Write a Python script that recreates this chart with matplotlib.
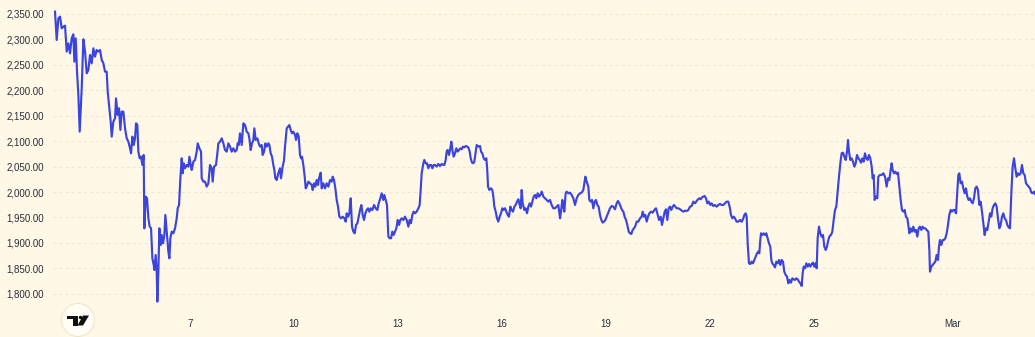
import numpy as np
import pandas as pd
import matplotlib
matplotlib.use('Agg')
import matplotlib.pyplot as plt
from matplotlib.patches import Circle, Polygon
from matplotlib.transforms import IdentityTransform

# price trace, x = day of February (fractional), y = price
days_a = [3.106, 3.155, 3.203, 3.251, 3.299, 3.347, 3.395, 3.443, 3.491, 3.539,
          3.587, 3.635, 3.664, 3.703, 3.741, 3.780, 3.818, 3.876, 3.924, 3.972,
          4.020, 4.068, 4.116, 4.164, 4.212, 4.260, 4.308, 4.356, 4.405, 4.453,
          4.501, 4.549, 4.597, 4.626, 4.664, 4.712, 4.741, 4.789, 4.837, 4.866,
          4.914, 4.953, 4.991, 5.030, 5.078, 5.126, 5.174, 5.222, 5.270, 5.299,
          5.337, 5.376, 5.414, 5.443, 5.481, 5.510, 5.549, 5.587, 5.626, 5.664,
          5.683, 5.722, 5.760, 5.799, 5.837, 5.876, 5.914, 5.953, 5.972, 6.010,
          6.039, 6.058, 6.087, 6.116, 6.155, 6.183, 6.222, 6.260, 6.289, 6.328,
          6.376, 6.405, 6.433, 6.472, 6.520, 6.568, 6.616, 6.645, 6.683, 6.722,
          6.760, 6.789, 6.818, 6.856, 6.905, 6.953, 6.982, 7.020, 7.049, 7.097,
          7.145, 7.193, 7.222, 7.270, 7.318, 7.337, 7.385, 7.433, 7.481, 7.530]
price_a = [2354.6, 2298.9, 2341.5, 2344.8, 2321.8, 2325.1, 2327.1, 2276.0, 2292.3, 2272.7,
           2302.2, 2310.0, 2256.3, 2302.2, 2236.6, 2190.8, 2118.7, 2203.9, 2300.2, 2276.0,
           2233.4, 2239.9, 2269.4, 2253.0, 2282.5, 2266.1, 2279.2, 2276.0, 2279.2, 2259.6,
           2253.0, 2236.6, 2236.6, 2197.3, 2171.1, 2138.4, 2108.9, 2138.4, 2144.9, 2184.2,
           2151.5, 2164.6, 2122.0, 2158.0, 2158.0, 2125.2, 2105.6, 2099.0, 2085.9, 2076.1,
           2108.9, 2092.5, 2105.6, 2135.1, 2131.8, 2079.4, 2066.3, 2069.5, 2053.2, 2072.8,
           1928.6, 1990.9, 1987.6, 1948.3, 1931.9, 1928.6, 1869.7, 1856.6, 1846.7, 1876.2,
           1843.5, 1784.5, 1843.5, 1928.6, 1895.9, 1915.5, 1899.2, 1915.5, 1954.9, 1922.1,
           1882.8, 1869.7, 1909.0, 1922.1, 1918.8, 1928.6, 1948.3, 1968.0, 1974.5, 2027.0,
           2066.3, 2036.8, 2056.4, 2046.6, 2053.2, 2049.9, 2069.5, 2053.2, 2043.3, 2059.7,
           2063.0, 2079.4, 2095.7, 2085.9, 2079.4, 2027.0, 2020.4, 2020.4, 2010.6, 2017.1]

days_b = [7.577, 7.625, 7.654, 7.692, 7.750, 7.789, 7.817, 7.865, 7.914, 7.962,
          8.010, 8.058, 8.106, 8.154, 8.202, 8.250, 8.298, 8.346, 8.375, 8.404,
          8.442, 8.490, 8.539, 8.587, 8.635, 8.683, 8.712, 8.750, 8.789, 8.827,
          8.856, 8.894, 8.942, 8.981, 9.019, 9.067, 9.096, 9.135, 9.173, 9.212,
          9.260, 9.289, 9.327, 9.365, 9.404, 9.433, 9.462, 9.500, 9.548, 9.596,
          9.625, 9.673, 9.712, 9.740, 9.789, 9.827, 9.865, 9.904, 9.942, 9.981,
          10.029, 10.058, 10.096, 10.135, 10.173, 10.202, 10.231, 10.269, 10.308, 10.337,
          10.365, 10.413, 10.462, 10.510, 10.539, 10.577, 10.615, 10.654, 10.692, 10.721,
          10.769, 10.798, 10.846, 10.894, 10.942, 10.990, 11.039, 11.087, 11.115, 11.154,
          11.192, 11.231, 11.269, 11.308, 11.356, 11.404, 11.452, 11.490, 11.519, 11.558,
          11.596, 11.635, 11.673, 11.712, 11.750, 11.788, 11.827, 11.865, 11.904, 11.942,
          11.981, 12.019, 12.058, 12.096, 12.135, 12.173, 12.212, 12.260, 12.308, 12.356,
          12.404, 12.442]
price_b = [2053.1, 2046.6, 2020.4, 2049.8, 2053.1, 2076.1, 2095.7, 2099.0, 2105.5, 2095.7,
           2082.6, 2079.3, 2095.7, 2089.2, 2079.3, 2085.9, 2079.3, 2082.6, 2095.7, 2092.4,
           2115.4, 2092.4, 2135.0, 2131.7, 2118.6, 2115.4, 2105.5, 2082.6, 2095.7, 2102.3,
           2125.2, 2102.3, 2105.5, 2095.7, 2089.2, 2092.4, 2072.8, 2079.3, 2095.7, 2089.2,
           2095.7, 2092.4, 2076.1, 2069.5, 2053.1, 2043.3, 2026.9, 2023.6, 2036.7, 2046.6,
           2026.9, 2049.8, 2063.0, 2089.2, 2125.2, 2128.5, 2131.7, 2121.9, 2115.4, 2118.6,
           2112.1, 2102.3, 2115.4, 2108.8, 2072.8, 2066.2, 2069.5, 2053.1, 2030.2, 2007.2,
           2010.5, 2020.4, 2017.1, 2013.8, 2004.0, 2017.1, 2010.5, 2023.6, 2013.8, 2026.9,
           2038.0, 2007.2, 2017.1, 2007.2, 2017.1, 2010.5, 2023.6, 2020.4, 2030.2, 2023.6,
           2007.2, 1984.3, 1971.2, 1951.5, 1948.3, 1951.5, 1948.3, 1941.7, 1958.1, 1951.5,
           1958.1, 1987.6, 1931.9, 1922.0, 1918.8, 1935.2, 1938.4, 1951.5, 1964.6, 1974.5,
           1954.8, 1945.0, 1958.1, 1964.6, 1967.9, 1961.4, 1967.9, 1964.6, 1974.5, 1967.9,
           1964.6, 1977.8]

days_c = [12.490, 12.528, 12.576, 12.605, 12.644, 12.682, 12.721, 12.759, 12.798, 12.836,
          12.874, 12.913, 12.951, 12.990, 13.028, 13.067, 13.105, 13.153, 13.201, 13.249,
          13.298, 13.336, 13.374, 13.413, 13.451, 13.490, 13.538, 13.586, 13.624, 13.653,
          13.682, 13.730, 13.759, 13.798, 13.836, 13.874, 13.913, 13.951, 13.990, 14.028,
          14.067, 14.115, 14.163, 14.211, 14.259, 14.307, 14.336, 14.374, 14.403, 14.432,
          14.471, 14.509, 14.538, 14.576, 14.605, 14.644, 14.682, 14.721, 14.759, 14.798,
          14.836, 14.874, 14.913, 14.951, 14.990, 15.028, 15.067, 15.096, 15.134, 15.173,
          15.201, 15.240, 15.269, 15.317, 15.365, 15.394, 15.432, 15.471, 15.509, 15.548,
          15.576, 15.596, 15.634, 15.682, 15.721, 15.749, 15.778, 15.817, 15.855, 15.894,
          15.932, 15.971, 16.009, 16.047, 16.086, 16.124, 16.163, 16.201, 16.240, 16.278,
          16.317, 16.355, 16.394, 16.432, 16.471, 16.509, 16.538, 16.567, 16.596, 16.644,
          16.682, 16.721, 16.759, 16.798, 16.836, 16.874, 16.913, 16.951, 16.990, 17.028,
          17.067, 17.105, 17.144, 17.192, 17.240]
price_c = [1987.6, 1997.5, 1984.4, 1994.2, 1984.4, 1974.5, 1912.3, 1909.0, 1909.0, 1922.1,
           1915.6, 1922.1, 1928.7, 1945.0, 1935.2, 1945.0, 1948.3, 1945.0, 1951.6, 1945.0,
           1931.9, 1945.0, 1938.5, 1954.9, 1961.4, 1958.2, 1961.4, 1968.0, 1974.5, 2004.0,
           2036.8, 2056.5, 2063.0, 2056.5, 2056.5, 2046.6, 2053.2, 2053.2, 2046.6, 2053.2,
           2053.2, 2049.9, 2055.1, 2051.2, 2055.1, 2053.2, 2053.2, 2063.0, 2079.4, 2082.7,
           2072.8, 2085.9, 2099.0, 2079.4, 2069.6, 2076.1, 2085.9, 2079.4, 2082.7, 2085.9,
           2084.0, 2089.2, 2087.9, 2090.5, 2089.2, 2087.9, 2079.4, 2066.3, 2057.8, 2056.5,
           2059.7, 2079.4, 2092.5, 2089.2, 2090.5, 2079.4, 2076.1, 2066.3, 2063.0, 2066.3,
           2040.1, 2010.6, 2004.0, 2007.3, 2004.0, 1990.9, 1971.3, 1961.4, 1948.3, 1941.8,
           1951.6, 1958.2, 1968.0, 1964.7, 1968.0, 1961.4, 1954.9, 1951.6, 1971.3, 1964.7,
           1961.4, 1971.3, 1974.5, 1981.1, 1985.7, 1974.5, 1968.0, 2004.0, 1977.8, 1964.7,
           1968.0, 1958.2, 1971.3, 1977.8, 1971.3, 1981.1, 1990.9, 1994.2, 1987.6, 1997.5,
           1990.9, 1994.2, 2000.8, 1990.9, 1987.6]

days_d = [17.287, 17.335, 17.383, 17.432, 17.480, 17.528, 17.576, 17.624, 17.672, 17.701,
          17.739, 17.768, 17.797, 17.835, 17.864, 17.912, 17.960, 18.009, 18.057, 18.105,
          18.153, 18.201, 18.249, 18.297, 18.345, 18.374, 18.403, 18.441, 18.489, 18.518,
          18.557, 18.595, 18.633, 18.672, 18.710, 18.749, 18.787, 18.826, 18.864, 18.903,
          18.941, 18.980, 19.018, 19.066, 19.114, 19.162, 19.210, 19.258, 19.307, 19.345,
          19.383, 19.422, 19.460, 19.499, 19.537, 19.576, 19.614, 19.653, 19.691, 19.730,
          19.768, 19.807, 19.845, 19.884, 19.932, 19.980, 20.028, 20.057, 20.095, 20.133,
          20.172, 20.210, 20.249, 20.297, 20.345, 20.393, 20.441, 20.489, 20.528, 20.576,
          20.614, 20.653, 20.691, 20.730, 20.768, 20.807, 20.845, 20.884, 20.922, 20.960,
          20.999, 21.037, 21.085, 21.134, 21.182, 21.230, 21.278, 21.326, 21.374, 21.422,
          21.470, 21.518, 21.566, 21.614, 21.653, 21.691, 21.730, 21.768, 21.807, 21.845,
          21.884, 21.922, 21.961]
price_d = [1984.4, 1981.1, 1984.4, 1974.5, 1968.0, 1968.0, 1971.2, 1974.5, 1948.3, 1961.4,
           1984.4, 1971.2, 1961.4, 1997.5, 2000.7, 1997.5, 1998.8, 1994.2, 1987.6, 1974.5,
           1987.6, 1994.2, 1997.5, 1998.8, 2004.0, 2017.1, 2030.2, 2020.4, 2010.6, 1984.4,
           1981.1, 1984.4, 1968.0, 1981.1, 1984.4, 1974.5, 1971.2, 1954.9, 1945.0, 1939.8,
           1941.8, 1945.0, 1951.6, 1959.4, 1968.0, 1972.5, 1971.2, 1966.0, 1977.8, 1982.4,
           1977.8, 1971.2, 1964.7, 1961.4, 1951.6, 1945.0, 1935.2, 1922.1, 1918.8, 1917.5,
           1925.4, 1928.6, 1933.2, 1941.8, 1941.8, 1948.3, 1951.6, 1961.4, 1951.6, 1954.9,
           1941.8, 1951.6, 1958.1, 1961.4, 1959.4, 1964.7, 1968.0, 1954.9, 1945.0, 1951.6,
           1935.2, 1948.3, 1961.4, 1966.0, 1945.0, 1968.0, 1971.2, 1964.7, 1971.2, 1974.5,
           1971.2, 1968.0, 1968.0, 1966.0, 1963.4, 1961.4, 1963.4, 1962.7, 1964.7, 1971.2,
           1972.5, 1981.1, 1977.8, 1982.4, 1985.7, 1987.6, 1985.7, 1989.6, 1990.9, 1992.2,
           1987.6, 1977.8, 1981.1]

days_e = [22.008, 22.046, 22.094, 22.142, 22.191, 22.239, 22.287, 22.335, 22.383, 22.431,
          22.479, 22.527, 22.575, 22.604, 22.642, 22.681, 22.719, 22.767, 22.816, 22.864,
          22.912, 22.960, 22.989, 23.027, 23.056, 23.085, 23.123, 23.162, 23.200, 23.238,
          23.277, 23.315, 23.354, 23.392, 23.421, 23.450, 23.469, 23.508, 23.546, 23.585,
          23.623, 23.662, 23.700, 23.738, 23.767, 23.796, 23.835, 23.873, 23.912, 23.950,
          23.989, 24.027, 24.066, 24.104, 24.142, 24.181, 24.219, 24.258, 24.296, 24.335,
          24.373, 24.412, 24.450, 24.489, 24.527, 24.566, 24.604, 24.643, 24.671, 24.700,
          24.739, 24.777, 24.816, 24.854, 24.892, 24.931, 24.969, 25.008, 25.046, 25.075,
          25.104, 25.142, 25.181, 25.219, 25.258, 25.296, 25.335, 25.373, 25.412, 25.450,
          25.489, 25.527, 25.566, 25.604, 25.642, 25.681, 25.719, 25.758, 25.796, 25.835,
          25.873, 25.912, 25.950, 25.979, 26.008, 26.046, 26.085, 26.123, 26.162, 26.200,
          26.239, 26.277, 26.316, 26.354, 26.392, 26.431, 26.469, 26.508, 26.546, 26.585,
          26.623, 26.662, 26.691, 26.719, 26.748]
price_e = [1974.5, 1977.8, 1972.5, 1974.5, 1971.2, 1974.5, 1976.5, 1974.5, 1974.5, 1977.8,
           1981.1, 1981.1, 1968.0, 1954.8, 1948.3, 1951.6, 1948.3, 1941.7, 1941.7, 1945.0,
           1941.7, 1948.3, 1954.8, 1958.1, 1951.6, 1899.1, 1859.8, 1858.5, 1863.1, 1859.8,
           1866.4, 1872.9, 1879.5, 1882.8, 1879.5, 1905.7, 1918.8, 1915.5, 1918.8, 1915.5,
           1918.8, 1909.0, 1899.1, 1892.6, 1866.4, 1859.8, 1856.5, 1851.9, 1863.1, 1859.8,
           1866.4, 1856.5, 1866.4, 1863.1, 1843.4, 1836.9, 1833.6, 1820.5, 1827.1, 1821.8,
           1830.3, 1828.4, 1827.1, 1830.3, 1828.4, 1823.8, 1820.5, 1815.3, 1840.1, 1853.3,
           1850.0, 1859.8, 1853.3, 1858.5, 1853.3, 1858.5, 1861.1, 1853.3, 1859.8, 1850.0,
           1909.0, 1931.9, 1918.8, 1912.2, 1915.5, 1892.6, 1886.0, 1892.6, 1905.7, 1913.6,
           1915.5, 1922.1, 1945.0, 1964.7, 1971.2, 2000.7, 2030.2, 2056.4, 2076.1, 2077.4,
           2069.5, 2063.0, 2079.3, 2102.3, 2079.3, 2063.0, 2066.2, 2059.7, 2049.9, 2056.4,
           2072.8, 2066.2, 2063.0, 2057.7, 2066.2, 2059.7, 2076.1, 2066.2, 2063.0, 2072.8,
           2066.2, 2049.9, 2026.9, 2033.5, 1984.3]

days_f = [26.786, 26.825, 26.853, 26.901, 26.950, 26.998, 27.046, 27.094, 27.132, 27.171,
          27.209, 27.238, 27.267, 27.305, 27.344, 27.382, 27.421, 27.459, 27.498, 27.536,
          27.575, 27.613, 27.651, 27.690, 27.719, 27.748, 27.786, 27.825, 27.863, 27.901,
          27.940, 27.978, 28.017, 28.055, 28.094, 28.132, 28.171, 28.209, 28.248, 28.296,
          28.325, 28.344, 28.382, 28.421, 28.459, 28.498, 28.536, 28.575, 28.603, 28.632,
          28.671, 28.709, 28.748, 28.786, 28.825, 28.863, 28.901, 28.940, 28.978, 29.017,
          29.055, 29.094, 29.123, 29.161, 29.190, 29.228, 29.267, 29.305, 29.344, 29.382,
          29.421, 29.459, 29.498, 29.536, 29.575, 29.613, 29.651, 29.690, 29.728, 29.767,
          29.805, 29.844, 29.882, 29.921, 29.959, 29.998, 30.036, 30.075, 30.113, 30.151,
          30.190, 30.228, 30.267, 30.305, 30.344, 30.382, 30.421, 30.459, 30.498, 30.536,
          30.575, 30.613, 30.651, 30.690, 30.728, 30.767, 30.805, 30.844, 30.882, 30.921,
          30.959, 30.998, 31.036, 31.075, 31.113, 31.151, 31.190, 31.228, 31.267, 31.305,
          31.344, 31.373]
price_f = [1990.9, 1987.6, 2030.2, 2033.5, 2033.5, 2036.8, 2030.2, 2010.6, 2026.9, 2023.7,
           2043.3, 2056.4, 2043.3, 2036.8, 2040.0, 2035.5, 2038.1, 2010.6, 1984.3, 1964.7,
           1961.4, 1964.7, 1951.6, 1948.3, 1935.2, 1918.8, 1928.6, 1922.1, 1931.9, 1922.1,
           1925.4, 1912.3, 1928.6, 1931.9, 1925.4, 1931.9, 1928.6, 1928.6, 1925.4, 1922.1,
           1886.1, 1843.5, 1853.3, 1856.6, 1859.8, 1863.1, 1876.2, 1866.4, 1892.6, 1905.7,
           1895.9, 1905.7, 1905.7, 1909.0, 1918.8, 1935.2, 1954.9, 1964.7, 1961.4, 1964.7,
           1964.7, 1958.1, 1990.9, 2033.5, 2036.8, 2017.1, 2020.4, 2007.3, 1997.5, 2007.3,
           1990.9, 1984.3, 1987.6, 1981.1, 1977.8, 1987.6, 2007.3, 2010.6, 2004.0, 1974.5,
           1981.1, 1961.4, 1938.5, 1915.5, 1928.6, 1925.4, 1941.8, 1958.1, 1951.6, 1968.0,
           1974.5, 1977.8, 1971.2, 1948.3, 1928.6, 1935.2, 1951.6, 1958.1, 1948.3, 1945.0,
           1935.2, 1930.6, 1928.6, 1997.5, 2049.9, 2066.3, 2046.6, 2030.2, 2036.8, 2033.5,
           2036.8, 2053.2, 2036.8, 2033.5, 2017.1, 2013.8, 2010.6, 2007.3, 1998.8, 1997.5,
           2000.7, 1996.1]

tick_dates = ['2025-02-07', '2025-02-10', '2025-02-13', '2025-02-16',
              '2025-02-19', '2025-02-22', '2025-02-25', '2025-03-01']
tick_labels = ['7', '10', '13', '16', '19', '22', '25', 'Mar']
price_ticks = [1800, 1850, 1900, 1950, 2000, 2050, 2100, 2150, 2200, 2250, 2300, 2350]

days = np.array(days_a + days_b + days_c + days_d + days_e + days_f)
prices = np.array(price_a + price_b + price_c + price_d + price_e + price_f)
times = pd.Timestamp('2025-02-01') + pd.to_timedelta(days - 1, unit='D')

bg = '#fff8e7'
W, H = 1035, 337
fig = plt.figure(figsize=(W / 100, H / 100), dpi=100, facecolor=bg)
ax = fig.add_axes([53 / W, 28 / H, (W - 53) / W, 309 / H], facecolor=bg)

ax.plot(times, prices, color='#3b44df', lw=1.55, solid_joinstyle='round')

ax.set_ylim(1770.0, 2377.5)
start = pd.Timestamp('2025-02-01') + pd.Timedelta(days=3.048 - 1)
end = pd.Timestamp('2025-02-01') + pd.Timedelta(days=31.373 - 1)
ax.set_xlim(start, end)

ax.set_yticks(price_ticks)
ax.set_yticklabels(['{:,.2f}'.format(p) for p in price_ticks])
ax.set_xticks(pd.to_datetime(tick_dates))
ax.set_xticklabels(tick_labels)

ax.grid(axis='y', color='#f0e6cc', linestyle=(0, (2.5, 3)), lw=0.8)
ax.grid(axis='x', visible=False)
for s in ax.spines.values():
    s.set_visible(False)
ax.tick_params(axis='y', length=0, pad=6.5, labelsize=7, labelcolor='#2a2e39')
ax.tick_params(axis='x', length=0, pad=7, labelsize=7, labelcolor='#2a2e39')
for lab in ax.get_xticklabels() + ax.get_yticklabels():
    lab.set_fontfamily('Liberation Sans')

# TradingView badge bottom-left (figure pixel coords)
px = IdentityTransform()
fig.add_artist(Circle((78, H - 320), 16.5, transform=px, facecolor='#fffdf6',
                      edgecolor='#f1e5c9', lw=0.8))
fig.add_artist(Polygon([(67, H - 315.5), (78, H - 315.5), (78, H - 325.5), (72.5, H - 325.5),
                        (72.5, H - 319), (67, H - 319)], closed=True, transform=px,
                       facecolor='#111111', edgecolor='none'))
fig.add_artist(Circle((80.5, H - 317.5), 1.7, transform=px, facecolor='#111111',
                      edgecolor='none'))
fig.add_artist(Polygon([(83, H - 315.5), (89, H - 315.5), (83, H - 325.5), (77.5, H - 325.5)],
                       closed=True, transform=px, facecolor='#111111', edgecolor='none'))

fig.savefig('out.png', dpi=100, facecolor=bg)
